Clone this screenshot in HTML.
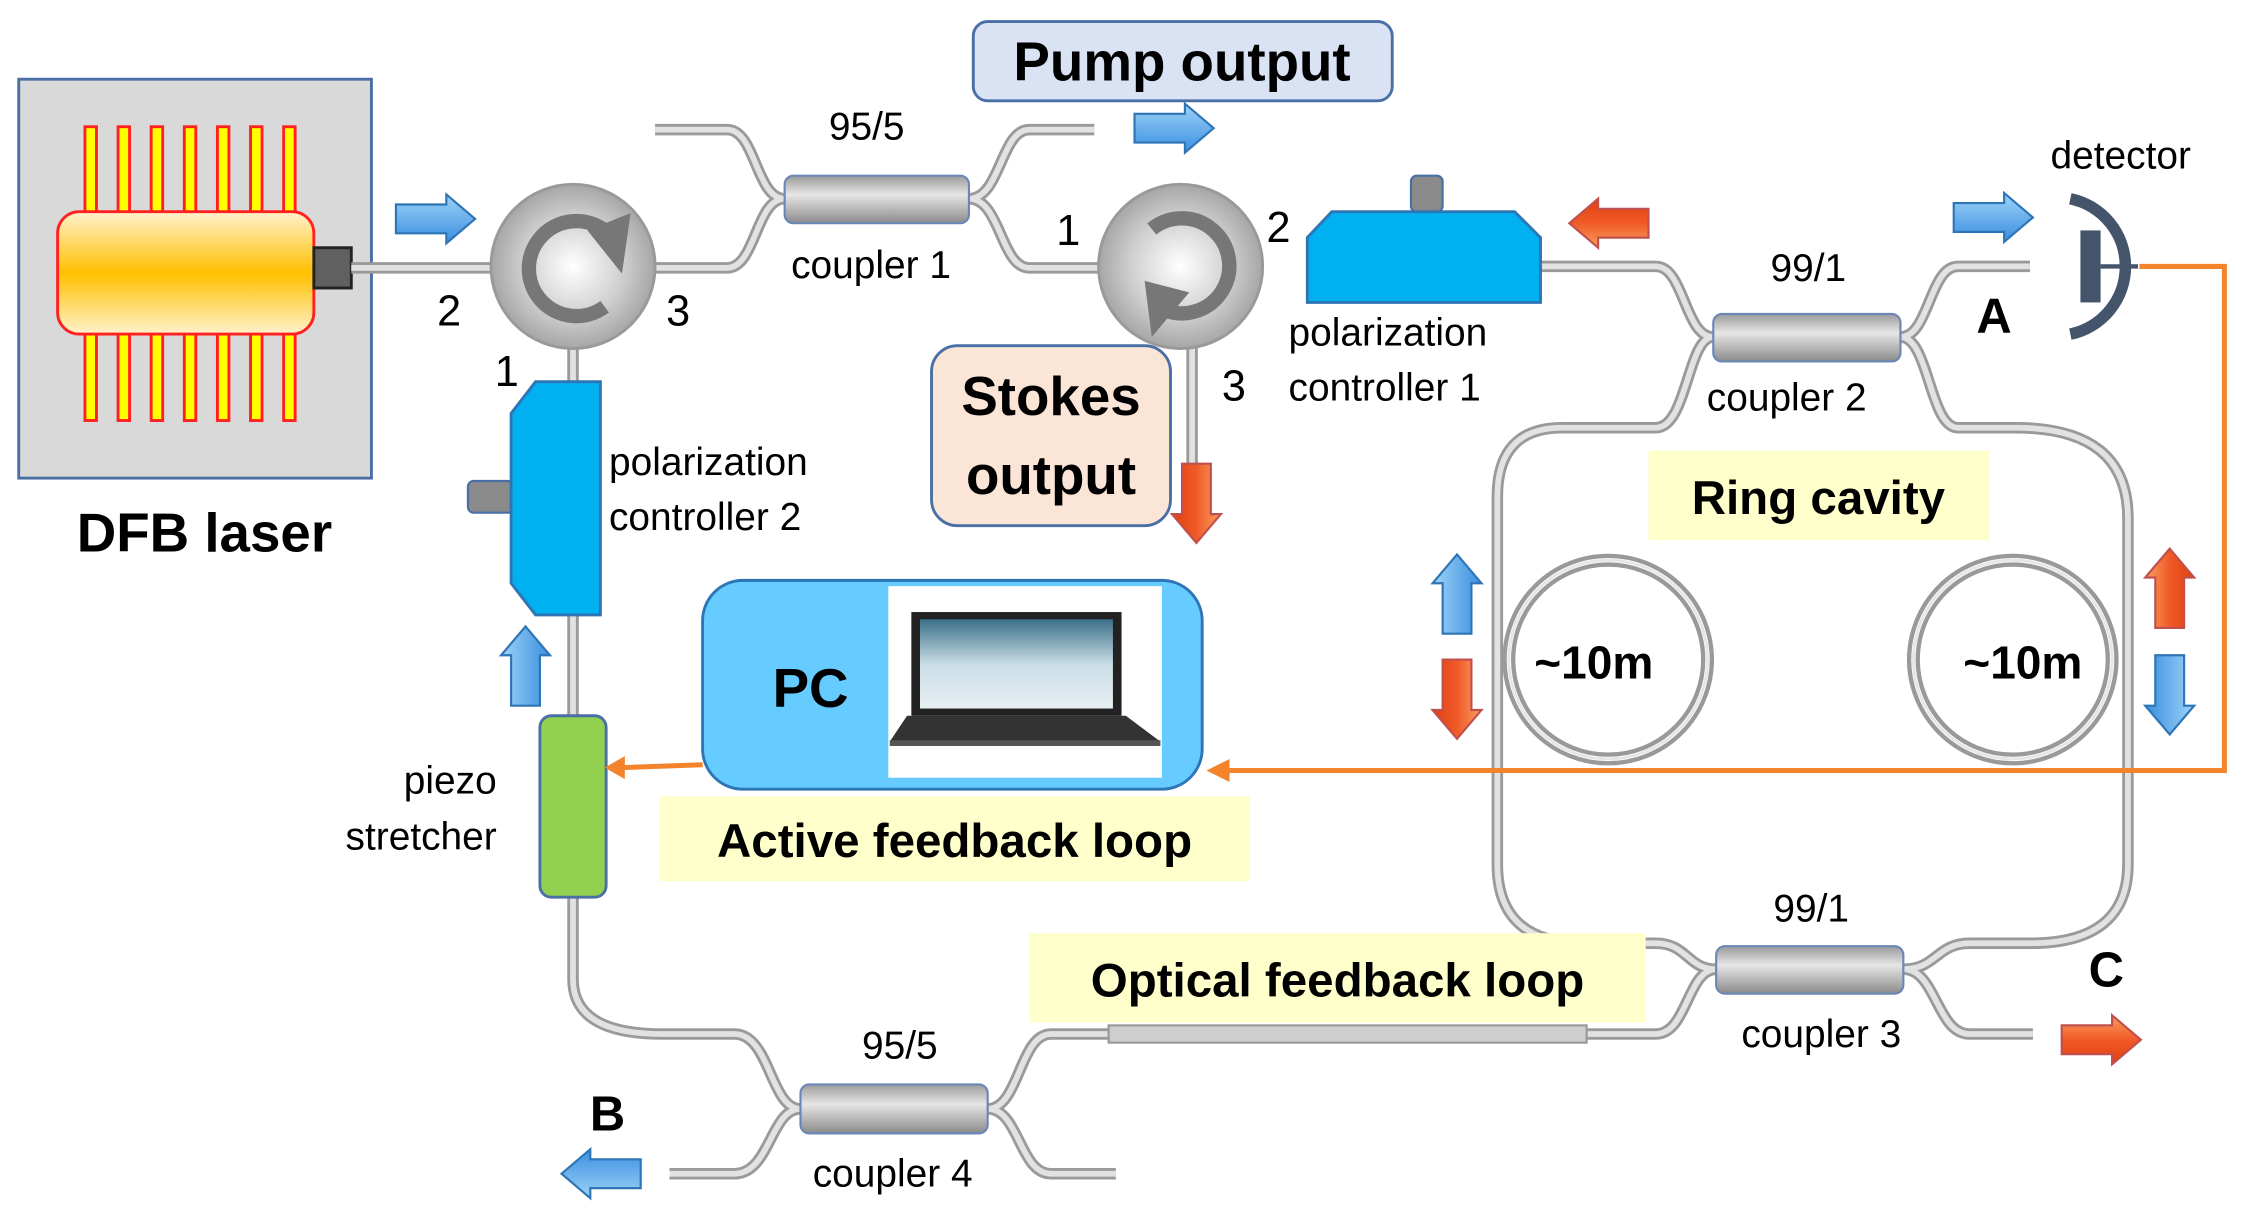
<!DOCTYPE html>
<html><head><meta charset="utf-8"><style>
html,body{margin:0;padding:0;background:#fff;}
svg{display:block;}
text{font-family:"Liberation Sans",Arial,sans-serif;}
.b{font-weight:bold;}
</style></head><body>
<svg width="2246" height="1227" viewBox="0 0 1560 852" preserveAspectRatio="none" xmlns="http://www.w3.org/2000/svg">
<defs>
<linearGradient id="org" x1="0" y1="0" x2="0" y2="1"><stop offset="0" stop-color="#fff2cc"/><stop offset="0.5" stop-color="#ffc000"/><stop offset="1" stop-color="#fff2cc"/></linearGradient>
<linearGradient id="cpl" x1="0" y1="0" x2="0" y2="1"><stop offset="0" stop-color="#9a9a9a"/><stop offset="0.4" stop-color="#e6e6e6"/><stop offset="1" stop-color="#8a8a8a"/></linearGradient>
<radialGradient id="circ" cx="0.5" cy="0.5" r="0.5"><stop offset="0" stop-color="#ffffff"/><stop offset="0.6" stop-color="#d0d0d0"/><stop offset="1" stop-color="#a6a6a6"/></radialGradient>
<linearGradient id="blu" x1="0" y1="0" x2="0" y2="1"><stop offset="0" stop-color="#9dd3f7"/><stop offset="1" stop-color="#3a8ee0"/></linearGradient>
<linearGradient id="red" x1="0" y1="0" x2="0" y2="1"><stop offset="0" stop-color="#f9a060"/><stop offset="0.5" stop-color="#f05a28"/><stop offset="1" stop-color="#e04010"/></linearGradient>
<polygon id="arr" points="0,-10 35,-10 35,-17 55,0 35,17 35,10 0,10"/>
<linearGradient id="scr" x1="0" y1="0" x2="0" y2="1"><stop offset="0" stop-color="#3a6f88"/><stop offset="0.5" stop-color="#c9dde6"/><stop offset="1" stop-color="#e8f0f3"/></linearGradient>
</defs>

<!-- DFB laser -->
<rect x="13" y="55" width="245" height="277" fill="#d9d9d9" stroke="#4a6fa5" stroke-width="2"/>
<g fill="#ffff00" stroke="#ff2020" stroke-width="2">
<rect x="59" y="88" width="8" height="204"/><rect x="82" y="88" width="8" height="204"/><rect x="105" y="88" width="8" height="204"/><rect x="128" y="88" width="8" height="204"/><rect x="151" y="88" width="8" height="204"/><rect x="174" y="88" width="8" height="204"/><rect x="197" y="88" width="8" height="204"/>
</g>
<rect x="40" y="147" width="178" height="85" rx="15" fill="url(#org)" stroke="#ff2020" stroke-width="2"/>
<rect x="218" y="172" width="26" height="28" fill="#606060" stroke="#222" stroke-width="2"/>
<text x="142" y="383" class="b" font-size="38" text-anchor="middle">DFB laser</text>

<!-- fibers (outline then core) -->
<g fill="none" stroke="#9a9a9a" stroke-width="8" stroke-linecap="butt">
<path d="M244,186 L345,186"/>
<path d="M398,240 L398,265 M398,427 L398,497 M398,623 L398,680 Q398,718 460,718 L510,718 C535,718 535,770 556,770 C535,770 535,815 510,815 L465,815"/>
<path d="M686,770 C708,770 708,718 730,718 L1150,718 C1172,718 1172,673 1192,673 C1172,673 1172,655 1150,655 L1100,655 Q1040,655 1040,600 L1040,345 Q1040,297 1085,297 L1150,297 C1172,297 1172,234 1190,234 C1170,234 1170,185 1150,185 L1070,185"/>
<path d="M686,770 C708,770 708,815 730,815 L775,815"/>
<path d="M1320,234 C1340,234 1340,185 1360,185 L1410,185 M1320,234 C1340,234 1340,297 1360,297 L1400,297 Q1478,297 1478,360 L1478,600 Q1478,655 1410,655 L1368,655 C1345,655 1345,673 1322,673 C1345,673 1345,718 1368,718 L1412,718"/>
<path d="M455,90 L505,90 C525,90 525,138 545,138 C525,138 525,186 505,186 L455,186"/>
<path d="M673,138 C695,138 695,90 715,90 L760,90 M673,138 C695,138 695,186 715,186 L765,186"/>
<path d="M828,240 L828,322"/>
</g>
<g fill="none" stroke="#e2e2e2" stroke-width="4">
<path d="M244,186 L345,186"/>
<path d="M398,240 L398,265 M398,427 L398,497 M398,623 L398,680 Q398,718 460,718 L510,718 C535,718 535,770 556,770 C535,770 535,815 510,815 L465,815"/>
<path d="M686,770 C708,770 708,718 730,718 L1150,718 C1172,718 1172,673 1192,673 C1172,673 1172,655 1150,655 L1100,655 Q1040,655 1040,600 L1040,345 Q1040,297 1085,297 L1150,297 C1172,297 1172,234 1190,234 C1170,234 1170,185 1150,185 L1070,185"/>
<path d="M686,770 C708,770 708,815 730,815 L775,815"/>
<path d="M1320,234 C1340,234 1340,185 1360,185 L1410,185 M1320,234 C1340,234 1340,297 1360,297 L1400,297 Q1478,297 1478,360 L1478,600 Q1478,655 1410,655 L1368,655 C1345,655 1345,673 1322,673 C1345,673 1345,718 1368,718 L1412,718"/>
<path d="M455,90 L505,90 C525,90 525,138 545,138 C525,138 525,186 505,186 L455,186"/>
<path d="M673,138 C695,138 695,90 715,90 L760,90 M673,138 C695,138 695,186 715,186 L765,186"/>
<path d="M828,240 L828,322"/>
</g>
<rect x="770" y="712" width="332" height="12" fill="#cfcfcf" stroke="#999" stroke-width="1.5"/>

<!-- spools -->
<g fill="none" stroke="#999" stroke-width="3">
<circle cx="1117" cy="458" r="72"/><circle cx="1117" cy="458" r="66"/>
<circle cx="1398" cy="458" r="72"/><circle cx="1398" cy="458" r="66"/>
</g>
<g fill="none" stroke="#e6e6e6" stroke-width="2"><circle cx="1117" cy="458" r="69"/><circle cx="1398" cy="458" r="69"/></g>
<text x="1107" y="471" class="b" font-size="32" text-anchor="middle">~10m</text>
<text x="1405" y="471" class="b" font-size="32" text-anchor="middle">~10m</text>

<!-- couplers -->
<g fill="url(#cpl)" stroke="#6b87b8" stroke-width="1.5">
<rect x="545" y="122" width="128" height="33" rx="6"/>
<rect x="1190" y="218" width="130" height="33" rx="6"/>
<rect x="1192" y="657" width="130" height="33" rx="6"/>
<rect x="556" y="753" width="130" height="34" rx="6"/>
</g>

<!-- circulators -->
<circle cx="398" cy="185" r="57" fill="url(#circ)" stroke="#999" stroke-width="2"/>
<path d="M420,213 A33,33 0 1 1 420,160" fill="none" stroke="#777" stroke-width="10"/>
<polygon points="408,160 438,148 432,190" fill="#777"/>
<circle cx="820" cy="185" r="57" fill="url(#circ)" stroke="#999" stroke-width="2"/>
<path d="M800,159 A33,33 0 1 1 808,215" fill="none" stroke="#777" stroke-width="10"/>
<polygon points="826,203 800,234 795,195" fill="#777"/>
<text x="312" y="226" font-size="30" text-anchor="middle">2</text>
<text x="471" y="226" font-size="30" text-anchor="middle">3</text>
<text x="352" y="268" font-size="30" text-anchor="middle">1</text>
<text x="742" y="170" font-size="30" text-anchor="middle">1</text>
<text x="888" y="168" font-size="30" text-anchor="middle">2</text>
<text x="857" y="278" font-size="30" text-anchor="middle">3</text>

<!-- PC1 -->
<rect x="980" y="122" width="22" height="25" rx="4" fill="#8a8a8a" stroke="#4a6fa5" stroke-width="1.5"/>
<polygon points="908,210 908,165 925,147 1052,147 1070,165 1070,210" fill="#00b0f0" stroke="#2e75b6" stroke-width="2"/>
<text x="895" y="240" font-size="27">polarization</text>
<text x="895" y="278" font-size="27">controller 1</text>

<!-- PC2 -->
<rect x="325" y="334" width="32" height="22" rx="4" fill="#8a8a8a" stroke="#4a6fa5" stroke-width="1.5"/>
<polygon points="372,265 417,265 417,427 372,427 355,405 355,287" fill="#00b0f0" stroke="#2e75b6" stroke-width="2"/>
<text x="423" y="330" font-size="27">polarization</text>
<text x="423" y="368" font-size="27">controller 2</text>

<!-- piezo -->
<rect x="375" y="497" width="46" height="126" rx="8" fill="#92d050" stroke="#4a6fa5" stroke-width="2"/>
<text x="345" y="551" font-size="27" text-anchor="end">piezo</text>
<text x="345" y="590" font-size="27" text-anchor="end">stretcher</text>

<!-- coupler labels -->
<text x="602" y="97" font-size="27" text-anchor="middle">95/5</text>
<text x="605" y="193" font-size="27" text-anchor="middle">coupler 1</text>
<text x="1256" y="195" font-size="27" text-anchor="middle">99/1</text>
<text x="1241" y="285" font-size="27" text-anchor="middle">coupler 2</text>
<text x="1258" y="640" font-size="27" text-anchor="middle">99/1</text>
<text x="1265" y="727" font-size="27" text-anchor="middle">coupler 3</text>
<text x="625" y="735" font-size="27" text-anchor="middle">95/5</text>
<text x="620" y="824" font-size="27" text-anchor="middle">coupler 4</text>
<text x="1473" y="117" font-size="27" text-anchor="middle">detector</text>
<text x="1385" y="231" class="b" font-size="34" text-anchor="middle">A</text>
<text x="422" y="785" class="b" font-size="34" text-anchor="middle">B</text>
<text x="1463" y="685" class="b" font-size="34" text-anchor="middle">C</text>

<!-- boxes -->
<rect x="676" y="15" width="291" height="55" rx="10" fill="#dae3f3" stroke="#4a6fa5" stroke-width="2"/>
<text x="821" y="56" class="b" font-size="38" text-anchor="middle">Pump output</text>
<rect x="647" y="240" width="166" height="125" rx="18" fill="#fbe5d6" stroke="#4a6fa5" stroke-width="2"/>
<text x="730" y="288" class="b" font-size="38" text-anchor="middle">Stokes</text>
<text x="730" y="343" class="b" font-size="38" text-anchor="middle">output</text>
<rect x="1145" y="313" width="237" height="62" fill="#ffffcc"/>
<text x="1263" y="357" class="b" font-size="33" text-anchor="middle">Ring cavity</text>
<rect x="458" y="553" width="410" height="59" fill="#ffffcc"/>
<text x="663" y="595" class="b" font-size="33" text-anchor="middle">Active feedback loop</text>
<rect x="715" y="648" width="428" height="62" fill="#ffffcc"/>
<text x="929" y="692" class="b" font-size="33" text-anchor="middle">Optical feedback loop</text>

<!-- PC -->
<rect x="488" y="403" width="347" height="145" rx="28" fill="#66ccff" stroke="#2e75b6" stroke-width="2"/>
<rect x="617" y="407" width="190" height="133" fill="#fff"/>
<rect x="633" y="425" width="146" height="72" fill="#222"/>
<rect x="639" y="430" width="134" height="62" fill="url(#scr)"/>
<polygon points="630,497 782,497 806,515 618,515" fill="#333"/>
<rect x="618" y="514" width="188" height="4" fill="#555"/>
<text x="563" y="491" class="b" font-size="38" text-anchor="middle">PC</text>

<!-- detector -->
<path d="M1438,138 A48,48 0 0 1 1438,232" fill="none" stroke="#44546a" stroke-width="8"/>
<rect x="1445" y="160" width="14" height="50" fill="#44546a"/>
<line x1="1459" y1="185" x2="1485" y2="185" stroke="#44546a" stroke-width="3"/>

<!-- orange signal line -->
<polyline points="1486,185 1545,185 1545,535 852,535" fill="none" stroke="#f4842c" stroke-width="3.5"/>
<polygon points="838,535 854,527 854,543" fill="#f4842c"/>
<line x1="488" y1="531" x2="432" y2="533" stroke="#f4842c" stroke-width="3.5"/>
<polygon points="420,533 434,525 434,541" fill="#f4842c"/>

<!-- block arrows -->
<g fill="url(#blu)" stroke="#2e75b6" stroke-width="1.5">
<use href="#arr" transform="translate(275,152)"/>
<use href="#arr" transform="translate(788,89)"/>
<use href="#arr" transform="translate(1357,151)"/>
<use href="#arr" transform="translate(365,490) rotate(-90)"/>
<use href="#arr" transform="translate(1012,440) rotate(-90)"/>
<use href="#arr" transform="translate(1507,455) rotate(90)"/>
<use href="#arr" transform="translate(445,815) rotate(180)"/>
</g>
<g fill="url(#red)" stroke="#c0504d" stroke-width="1.5">
<use href="#arr" transform="translate(1145,155) rotate(180)"/>
<use href="#arr" transform="translate(831,322) rotate(90)"/>
<use href="#arr" transform="translate(1012,458) rotate(90)"/>
<use href="#arr" transform="translate(1507,436) rotate(-90)"/>
<use href="#arr" transform="translate(1432,722)"/>
</g>
</svg>
</body></html>
